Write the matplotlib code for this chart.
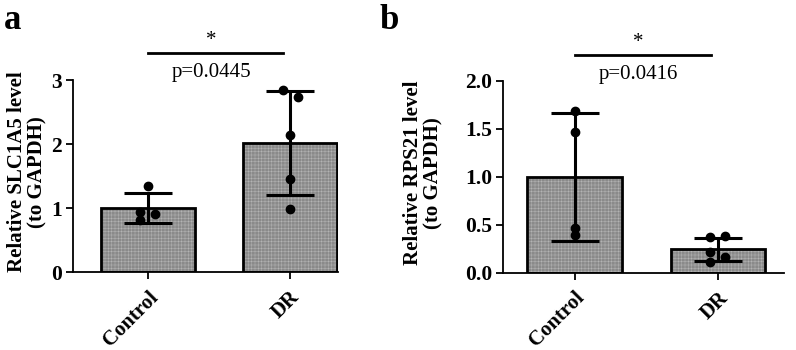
import numpy as np
import matplotlib
matplotlib.use("Agg")
import matplotlib.pyplot as plt

plt.rcParams['font.family'] = ['Liberation Serif', 'DejaVu Serif']
plt.rcParams['hatch.linewidth'] = 0.35

# ---- data ----
groups = ['Control', 'DR']

# panel a: SLC1A5
a_means = [1.0, 2.02]
a_sd = [0.235, 0.81]
a_points = [[1.34, 0.93, 0.90, 0.82],
            [2.84, 2.73, 2.14, 1.45, 0.98]]
a_pvalue = 'p=0.0445'

# panel b: RPS21
b_means = [1.0, 0.245]
b_sd = [0.67, 0.12]
b_points = [[1.69, 1.47, 0.47, 0.39],
            [0.37, 0.38, 0.216, 0.167, 0.108]]
b_pvalue = 'p=0.0416'

# horizontal jitter of the dots (layout only)
a_jitter = [[0, -0.055, 0.05, -0.055], [-0.05, 0.06, 0, 0, 0]]
b_jitter = [[0, 0, 0, 0], [-0.055, 0.05, -0.055, 0.05, -0.055]]

W, H = 796, 350
fig = plt.figure(figsize=(W / 100, H / 100), dpi=100)


def px_axes(left, right, top, bottom):
    return fig.add_axes([left / W, 1 - bottom / H, (right - left) / W, (bottom - top) / H])


def draw_panel(ax, means, sd, points, jitter, ylim, yticks, yticklabels, xlim,
               sig_y, star_y, p_y, p_text):
    x = np.arange(len(groups))
    ax.bar(x, means, width=0.66, color='#8a8a8a', edgecolor='#b4b4b4',
           hatch='+++++', linewidth=0, zorder=1)
    ax.bar(x, means, width=0.66, fill=False, edgecolor='black', linewidth=2.0, zorder=2)
    ax.errorbar(x, means, yerr=sd, fmt='none', ecolor='black', elinewidth=2.2,
                capsize=17, capthick=2.2, zorder=3)
    for i, pts in enumerate(points):
        ax.scatter(x[i] + np.array(jitter[i]), pts, s=36, color='black', zorder=4,
                   clip_on=False)

    ax.set_xlim(*xlim)
    ax.set_ylim(*ylim)
    ax.set_yticks(yticks)
    ax.set_yticklabels(yticklabels, fontsize=15.5, fontweight='bold')
    ax.set_xticks(x)
    ax.set_xticklabels(groups, fontsize=15, fontweight='bold', rotation=45,
                       ha='right', rotation_mode='anchor')
    ax.tick_params(axis='both', length=5, width=1.3, pad=3)
    ax.tick_params(axis='x', pad=6)
    for s in ['top', 'right']:
        ax.spines[s].set_visible(False)
    for s in ['left', 'bottom']:
        ax.spines[s].set_linewidth(1.3)

    ax.plot([0.0, 0.95], [sig_y, sig_y], color='black', lw=2, clip_on=False)
    ax.text(0.445, star_y, '*', ha='center', va='center', fontsize=15)
    ax.text(0.445, p_y, p_text, ha='center', va='baseline', fontsize=15)


ax_a = px_axes(73, 338, 80, 272)
draw_panel(ax_a, a_means, a_sd, a_points, a_jitter, (0, 3), [0, 1, 2, 3],
           ['0', '1', '2', '3'], (-0.53, 1.34), 3.42, 3.62, 3.04, a_pvalue)

ax_b = px_axes(503, 784, 81, 272.7)
draw_panel(ax_b, b_means, b_sd, b_points, b_jitter, (0, 2.0), [0, 0.5, 1.0, 1.5, 2.0],
           ['0.0', '0.5', '1.0', '1.5', '2.0'], (-0.50, 1.46), 2.27, 2.40, 2.025, b_pvalue)

fig.text(27.5 / W, 1 - 172 / H, 'Relative SLC1A5 level\n(to GAPDH)', rotation=90,
         ha='center', va='center', fontsize=15, fontweight='bold', multialignment='center',
         linespacing=1.0)
fig.text(423.5 / W, 1 - 173 / H, 'Relative RPS21 level\n(to GAPDH)', rotation=90,
         ha='center', va='center', fontsize=15, fontweight='bold', multialignment='center',
         linespacing=1.0)

fig.text(4 / W, 1 - 29 / H, 'a', fontsize=25, fontweight='bold', ha='left', va='baseline')
fig.text(380 / W, 1 - 29 / H, 'b', fontsize=25, fontweight='bold', ha='left', va='baseline')

fig.savefig('out.png', dpi=100)
